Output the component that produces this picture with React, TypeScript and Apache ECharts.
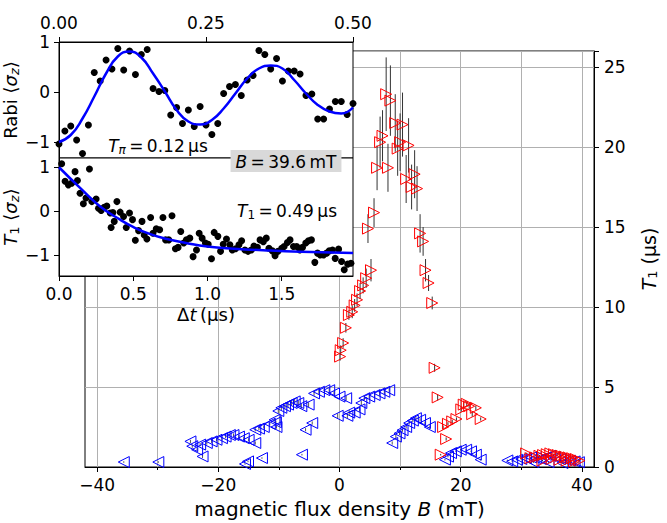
import React, { useEffect, useRef } from 'react';
import * as echarts from 'echarts';

// ---------- main chart ----------
const xMajorTicks = [-40, -20, 0, 20, 40];
const xMinorTicks = [-30, -10, 10, 30];
const yMainTicks = [0, 5, 10, 15, 20, 25];

// [B (mT), T1 (us), error]
const redPoints: number[][] = [
  [7.7, 23.3, 2.3], [8.4, 22.9, 2.2], [9.2, 21.5, 1.8], [10.4, 21.4, 2.0],
  [7.1, 20.7, 1.6], [6.7, 20.3, 1.6], [10.0, 20.3, 1.8], [11.4, 20.1, 1.7],
  [9.6, 19.9, 1.7], [6.2, 18.7, 1.4], [8.0, 18.7, 1.5], [11.0, 18.0, 1.5],
  [12.4, 18.3, 1.5], [11.9, 17.5, 1.4], [12.8, 17.4, 1.4], [5.7, 15.9, 0.9],
  [4.7, 14.9, 0.9], [13.3, 14.6, 1.2], [13.8, 14.1, 0.9], [14.2, 12.3, 0.7],
  [14.7, 11.5, 0.5], [15.3, 10.25, 0.4], [5.2, 12.3, 0.7], [4.4, 11.8, 0.6],
  [3.9, 11.35, 0.5], [3.4, 11.0, 0.5], [2.9, 10.45, 0.4], [2.5, 10.1, 0.4],
  [2.1, 9.7, 0.4], [1.55, 9.5, 0.3], [1.05, 8.7, 0.3], [0.6, 7.75, 0.3],
  [0.2, 7.3, 0.3], [0.1, 6.9, 0.25], [15.7, 6.2, 0.25], [16.2, 4.35, 0.2],
  [17.6, 1.75, 0.1], [16.7, 0.77, 0.05], [17.1, 2.5, 0.1], [17.9, 2.7, 0.1],
  [18.6, 2.85, 0.1], [19.3, 3.0, 0.1], [20.1, 3.6, 0.15], [20.5, 3.9, 0.15],
  [21.0, 3.95, 0.15], [21.4, 3.8, 0.15], [21.9, 3.3, 0.15], [22.5, 3.7, 0.15],
  [23.3, 3.0, 0.1],
  [30.8, 0.85, 0.05], [31.5, 0.55, 0.05], [32.3, 0.6, 0.05], [33.0, 0.7, 0.05],
  [33.6, 0.75, 0.05], [34.2, 0.8, 0.05], [34.8, 0.85, 0.05], [35.4, 0.8, 0.05],
  [36.0, 0.75, 0.05], [36.6, 0.7, 0.05], [37.2, 0.65, 0.05], [37.8, 0.6, 0.05],
  [38.4, 0.55, 0.05], [39.0, 0.5, 0.05], [39.6, 0.4, 0.05], [35.0, 0.5, 0.05],
  [36.3, 0.45, 0.05], [37.5, 0.4, 0.05], [38.7, 0.35, 0.05], [33.5, 0.4, 0.05],
];

const bluePoints: number[][] = [
  [-35.6, 0.31, 0.05], [-29.9, 0.31, 0.05],
  [-24.6, 1.6, 0.1], [-24.3, 1.3, 0.1], [-23.5, 1.08, 0.1], [-22.6, 0.66, 0.1],
  [-23.0, 1.4, 0.1], [-21.9, 1.5, 0.1], [-21.1, 1.6, 0.1], [-20.3, 1.7, 0.1],
  [-19.4, 1.8, 0.1], [-18.8, 1.9, 0.1], [-18.1, 2.0, 0.1], [-17.5, 2.0, 0.1],
  [-16.6, 1.9, 0.1], [-15.8, 1.8, 0.1], [-15.0, 1.7, 0.1], [-13.9, 1.5, 0.1],
  [-15.6, 0.19, 0.05], [-15.1, 0.35, 0.05], [-12.8, 0.56, 0.05],
  [-13.9, 2.33, 0.1], [-13.3, 2.4, 0.1], [-12.5, 2.5, 0.1], [-11.5, 2.7, 0.1],
  [-10.5, 2.8, 0.1], [-10.7, 2.95, 0.1], [-10.4, 2.5, 0.1],
  [-10.1, 3.5, 0.15], [-9.6, 3.7, 0.15], [-9.0, 3.8, 0.15], [-8.5, 3.9, 0.15],
  [-7.9, 4.0, 0.15], [-7.4, 4.1, 0.15], [-6.8, 4.0, 0.15], [-6.3, 3.8, 0.15],
  [-5.1, 3.9, 0.15], [-4.2, 4.6, 0.15], [-3.4, 4.7, 0.15], [-2.5, 4.8, 0.15],
  [-1.7, 4.8, 0.15], [-0.9, 4.6, 0.15], [0.0, 4.4, 0.15], [1.1, 4.3, 0.15],
  [-5.6, 2.33, 0.1], [-4.5, 2.75, 0.1], [-6.2, 0.77, 0.05],
  [-0.3, 3.2, 0.15], [1.3, 3.2, 0.15], [1.6, 3.4, 0.15], [2.5, 3.4, 0.15], [3.3, 3.6, 0.15],
  [3.6, 4.0, 0.15], [4.1, 4.3, 0.15], [4.9, 4.4, 0.15], [5.8, 4.5, 0.15],
  [6.6, 4.6, 0.15], [7.4, 4.7, 0.15], [8.2, 4.8, 0.15],
  [8.7, 1.5, 0.1], [9.3, 1.9, 0.1], [9.9, 2.1, 0.1], [10.4, 2.3, 0.1],
  [11.0, 2.5, 0.1], [11.5, 2.75, 0.1], [12.1, 2.9, 0.1], [12.6, 3.05, 0.1],
  [13.3, 2.95, 0.1], [14.1, 2.75, 0.1], [14.9, 2.5, 0.1],
  [17.4, 0.46, 0.05], [17.9, 0.65, 0.05], [18.4, 0.87, 0.05], [19.2, 0.98, 0.05],
  [20.0, 1.08, 0.05], [20.9, 1.08, 0.05], [21.7, 0.98, 0.05], [22.5, 0.77, 0.05],
  [23.3, 0.46, 0.05],
  [27.7, 0.41, 0.05], [28.5, 0.35, 0.05], [29.3, 0.45, 0.05], [30.0, 0.5, 0.05],
  [30.8, 0.55, 0.05], [31.6, 0.6, 0.05], [32.4, 0.55, 0.05], [33.2, 0.5, 0.05],
  [34.0, 0.6, 0.05], [34.8, 0.7, 0.05], [35.6, 0.6, 0.05], [36.4, 0.5, 0.05],
  [37.2, 0.45, 0.05], [38.0, 0.4, 0.05], [38.8, 0.35, 0.05], [39.5, 0.3, 0.05],
  [32.0, 0.3, 0.05], [34.5, 0.3, 0.05], [36.8, 0.25, 0.05],
];

// ---------- inset: Rabi ----------
const rabiXTicks = [0, 0.25, 0.5];
const insetYTicks = [-1, 0, 1];
const rabiPoints: number[][] = [
  [0.00, -1.04], [0.01, -0.78], [0.02, -0.68], [0.03, -0.96], [0.04, -1.23],
  [0.05, -0.66], [0.06, 0.39], [0.07, 0.22], [0.08, 0.64], [0.09, 0.46],
  [0.10, 0.87], [0.11, 0.44], [0.12, 0.82], [0.13, 0.35], [0.14, 0.75],
  [0.15, 0.85], [0.16, 0.07], [0.17, 0.01], [0.18, 0.03], [0.19, -0.46],
  [0.20, -0.31], [0.21, -0.63], [0.22, -0.36], [0.23, -0.69], [0.24, -0.29],
  [0.25, -0.66], [0.26, -0.85], [0.27, -0.63], [0.28, -0.03], [0.29, 0.11],
  [0.30, 0.15], [0.31, -0.07], [0.32, 0.24], [0.33, 0.33], [0.34, 0.83],
  [0.35, 0.75], [0.36, 0.46], [0.37, 0.67], [0.38, 0.22], [0.39, 0.42],
  [0.40, 0.42], [0.41, 0.36], [0.42, -0.07], [0.43, -0.04], [0.44, -0.54],
  [0.45, -0.54], [0.46, -0.34], [0.47, -0.19], [0.48, -0.19], [0.49, -0.45],
  [0.50, -0.23],
];
const rabiFit: number[][] = [
  [0.00, -1.0], [0.02, -0.86], [0.04, -0.53], [0.06, -0.09], [0.08, 0.37],
  [0.10, 0.71], [0.12, 0.81], [0.14, 0.69], [0.16, 0.37], [0.18, 0.01],
  [0.20, -0.36], [0.22, -0.59], [0.24, -0.65], [0.26, -0.56], [0.28, -0.33],
  [0.30, -0.03], [0.32, 0.27], [0.34, 0.47], [0.36, 0.53], [0.38, 0.47],
  [0.40, 0.24], [0.42, -0.03], [0.44, -0.26], [0.46, -0.39], [0.48, -0.43],
  [0.50, -0.31],
];

// ---------- inset: T1 ----------
const t1XTicks = [0, 0.5, 1.0, 1.5];
const t1Points: number[][] = [
  [0.018, 1.07], [0.041, 0.67], [0.063, 0.59], [0.086, 0.63], [0.108, 0.89],
  [0.124, 0.69], [0.142, 0.40], [0.164, 0.16], [0.182, 0.29], [0.205, 0.95],
  [0.221, 0.21], [0.25, 0.27], [0.266, 0.06], [0.284, 0.01], [0.304, 0.08],
  [0.322, 0.11], [0.345, -0.05], [0.363, -0.04], [0.351, -0.38], [0.39, 0.21],
  [0.372, -0.24], [0.412, -0.03], [0.435, -0.13], [0.453, -0.38], [0.475, -0.05],
  [0.495, -0.20], [0.514, -0.67], [0.536, -0.45], [0.559, -0.24], [0.574, -0.55],
  [0.592, -0.64], [0.617, -0.15], [0.633, -0.51], [0.655, -0.41], [0.678, -0.43],
  [0.70, -0.15], [0.718, -0.66], [0.739, -0.66], [0.761, -0.11], [0.784, -0.86],
  [0.802, -0.83], [0.82, -0.47], [0.84, -0.73], [0.858, -0.66], [0.881, -0.62],
  [0.903, -1.04], [0.926, -0.89], [0.944, -0.51], [0.964, -0.62], [0.986, -0.73],
  [1.005, -0.76], [1.027, -1.09], [1.045, -0.49], [1.07, -0.58], [1.088, -0.92],
  [1.106, -0.76], [1.128, -0.64], [1.151, -0.77], [1.167, -0.89], [1.189, -0.86],
  [1.212, -0.77], [1.23, -0.68], [1.252, -0.89], [1.273, -0.92], [1.295, -0.89],
  [1.313, -0.80], [1.336, -0.83], [1.354, -0.66], [1.376, -0.70], [1.396, -0.62],
  [1.414, -0.85], [1.437, -0.91], [1.455, -1.02], [1.475, -0.92], [1.50, -0.85],
  [1.516, -0.81], [1.538, -0.72], [1.556, -0.66], [1.579, -0.81], [1.601, -0.81],
  [1.622, -0.89], [1.64, -0.83], [1.662, -0.73], [1.68, -0.68], [1.70, -0.66],
  [1.723, -1.17], [1.741, -0.96], [1.759, -1.0], [1.782, -1.0], [1.802, -0.96],
  [1.82, -0.91], [1.842, -0.89], [1.86, -1.08], [1.883, -0.87], [1.903, -1.15],
  [1.921, -1.34], [1.944, -1.21], [1.966, -1.19], [1.984, -0.85],
];
const t1Fit: number[][] = [
  [0.0, 0.99], [0.142, 0.52], [0.277, 0.10], [0.412, -0.20], [0.502, -0.37],
  [0.615, -0.53], [0.727, -0.64], [0.862, -0.735], [0.998, -0.81], [1.178, -0.86],
  [1.40, -0.90], [1.628, -0.93], [1.98, -0.96],
];

const FONT = 'DejaVu Sans';
const TICK_FS = 17;
const NAME_FS = 19;
const ANN_FS = 17;
const minus = (v: number, digits?: number) => {
  const s = digits === undefined ? String(Math.abs(v)) : Math.abs(v).toFixed(digits);
  return (v < 0 ? '\u2212' : '') + s;
};

const baseLabel = { color: '#000', fontFamily: FONT, fontSize: TICK_FS };

const makeRich = (fs: number) => ({
  n: { fontFamily: FONT, fontSize: fs, color: '#000' },
  i: { fontFamily: FONT, fontSize: fs, color: '#000', fontStyle: 'italic' },
  s: { fontFamily: FONT, fontSize: Math.round(fs * 0.7), color: '#000', verticalAlign: 'bottom', padding: [8, 0, 0, 0] },
  si: { fontFamily: FONT, fontSize: Math.round(fs * 0.7), color: '#000', fontStyle: 'italic', verticalAlign: 'bottom', padding: [8, 0, 0, 0] },
});

export default function App() {
  const ref = useRef<HTMLDivElement>(null);
  useEffect(() => {
    if (!ref.current) return;
    const chart = echarts.init(ref.current, undefined, { renderer: 'svg' });

    const errRender = (color: string) => (params: any, api: any) => {
      const lo = api.coord([api.value(0), api.value(1)]);
      const hi = api.coord([api.value(0), api.value(2)]);
      return {
        type: 'line',
        shape: { x1: lo[0], y1: lo[1], x2: hi[0], y2: hi[1] },
        style: { stroke: color, lineWidth: 1 },
      };
    };

    const richName = makeRich(NAME_FS);
    const richInset = makeRich(18);
    const richAnn = makeRich(ANN_FS);
    const thin = '\u2009';

    const option: any = {
      animation: false,
      backgroundColor: '#fff',
      textStyle: { fontFamily: FONT },
      grid: [
        { left: 85, right: 73, top: 51, bottom: 56, show: true, borderColor: '#000', borderWidth: 1, backgroundColor: 'transparent', containLabel: false, outerBoundsMode: 'none' },
        { left: 59, top: 42, width: 294, height: 116, show: true, borderColor: '#000', borderWidth: 1, backgroundColor: '#fff', z: 10, containLabel: false, outerBoundsMode: 'none' },
        { left: 59, top: 158, width: 294, height: 118, show: true, borderColor: '#000', borderWidth: 1, backgroundColor: '#fff', z: 10, containLabel: false, outerBoundsMode: 'none' },
      ],
      xAxis: [
        {
          gridIndex: 0, type: 'value', min: -42, max: 42, position: 'bottom',
          axisLine: { show: true, onZero: false, lineStyle: { color: '#000', width: 1 } },
          axisTick: { show: true, inside: false, length: 5, customValues: xMajorTicks, lineStyle: { color: '#000' } },
          axisLabel: { ...baseLabel, margin: 9, customValues: xMajorTicks, formatter: (v: number) => minus(v) },
          splitLine: { show: true, lineStyle: { color: '#b0b0b0', width: 1 } },
          name: '{n|magnetic flux density }{i|B}{n| (mT)}',
          nameLocation: 'middle', nameGap: 32,
          nameTextStyle: { rich: makeRich(20) },
        },
        {
          gridIndex: 0, type: 'value', min: -42, max: 42, position: 'bottom',
          axisLine: { show: false, onZero: false },
          axisTick: { show: true, inside: false, length: 3, customValues: xMinorTicks, lineStyle: { color: '#000' } },
          axisLabel: { show: false, customValues: xMinorTicks },
          splitLine: { show: true, lineStyle: { color: '#b0b0b0', width: 1 } },
        },
        {
          gridIndex: 1, type: 'value', min: 0, max: 0.5, interval: 0.25, position: 'top', z: 20,
          axisLine: { show: true, onZero: false, lineStyle: { color: '#000' } },
          axisTick: { show: true, inside: false, length: 5, lineStyle: { color: '#000' } },
          axisLabel: { ...baseLabel, margin: 11, formatter: (v: number) => v.toFixed(2) },
          splitLine: { show: false },
        },
        {
          gridIndex: 2, type: 'value', min: 0, max: 1.98, interval: 0.5, position: 'bottom', z: 20,
          axisLine: { show: true, onZero: false, lineStyle: { color: '#000' } },
          axisTick: { show: true, inside: false, length: 5, customValues: t1XTicks, lineStyle: { color: '#000' } },
          axisLabel: { ...baseLabel, margin: 9, customValues: t1XTicks, formatter: (v: number) => v.toFixed(1) },
          splitLine: { show: false },
          name: '{n|\u0394}{i|t}{n|' + thin + '(\u03bcs)}',
          nameLocation: 'middle', nameGap: 29,
          nameTextStyle: { rich: richInset },
        },
      ],
      yAxis: [
        {
          gridIndex: 0, type: 'value', min: 0, max: 26, interval: 5, position: 'right',
          axisLine: { show: true, onZero: false, lineStyle: { color: '#000' } },
          axisTick: { show: true, inside: false, length: 5, lineStyle: { color: '#000' } },
          axisLabel: { ...baseLabel, margin: 10, customValues: yMainTicks },
          splitLine: { show: true, lineStyle: { color: '#b0b0b0', width: 1 } },
          name: '{i|T}{s|1}{n| (\u03bcs)}',
          nameLocation: 'middle', nameGap: 44, nameRotate: 90,
          nameTextStyle: { rich: richName },
        },
        {
          gridIndex: 1, type: 'value', min: -1.32, max: 1, position: 'left', z: 20,
          axisLine: { show: true, onZero: false, lineStyle: { color: '#000' } },
          axisTick: { show: true, inside: false, length: 5, customValues: insetYTicks, lineStyle: { color: '#000' } },
          axisLabel: { ...baseLabel, margin: 9, customValues: insetYTicks, formatter: (v: number) => minus(v) },
          splitLine: { show: false },
          name: '{n|Rabi \u27e8}{i|\u03c3}{si|z}{n|\u27e9}',
          nameLocation: 'middle', nameGap: 22, nameRotate: 90,
          nameTextStyle: { rich: richInset },
        },
        {
          gridIndex: 2, type: 'value', min: -1.48, max: 1.2, position: 'left', z: 20,
          axisLine: { show: true, onZero: false, lineStyle: { color: '#000' } },
          axisTick: { show: true, inside: false, length: 5, customValues: insetYTicks, lineStyle: { color: '#000' } },
          axisLabel: { ...baseLabel, margin: 9, customValues: insetYTicks, formatter: (v: number) => minus(v) },
          splitLine: { show: false },
          name: '{i|T}{s|1}{n| \u27e8}{i|\u03c3}{si|z}{n|\u27e9}',
          nameLocation: 'middle', nameGap: 22, nameRotate: 90,
          nameTextStyle: { rich: richInset },
        },
      ],
      series: [
        {
          type: 'custom', xAxisIndex: 0, yAxisIndex: 0, z: 2, silent: true,
          data: redPoints.map((p) => [p[0], p[1] - p[2], p[1] + p[2]]),
          encode: { x: 0, y: [1, 2] },
          renderItem: errRender('#333'),
        },
        {
          type: 'custom', xAxisIndex: 0, yAxisIndex: 0, z: 2, silent: true,
          data: bluePoints.map((p) => [p[0], p[1] - p[2], p[1] + p[2]]),
          encode: { x: 0, y: [1, 2] },
          renderItem: errRender('#555'),
        },
        {
          type: 'scatter', xAxisIndex: 0, yAxisIndex: 0, z: 3,
          data: bluePoints.map((p) => [p[0], p[1]]),
          symbol: 'triangle', symbolSize: 11, symbolRotate: 90,
          itemStyle: { color: 'transparent', borderColor: '#0000ff', borderWidth: 1, opacity: 1 },
        },
        {
          type: 'scatter', xAxisIndex: 0, yAxisIndex: 0, z: 4,
          data: redPoints.map((p) => [p[0], p[1]]),
          symbol: 'triangle', symbolSize: 11, symbolRotate: -90,
          itemStyle: { color: 'transparent', borderColor: '#ff0000', borderWidth: 1, opacity: 1 },
        },
        {
          type: 'scatter', xAxisIndex: 2, yAxisIndex: 1, z: 30,
          data: rabiPoints, symbol: 'circle', symbolSize: 7,
          itemStyle: { color: '#000', opacity: 1 },
        },
        {
          type: 'line', xAxisIndex: 2, yAxisIndex: 1, z: 31,
          data: rabiFit, smooth: true, showSymbol: false, symbol: 'none',
          lineStyle: { color: '#0000ff', width: 2.5 },
        },
        {
          type: 'scatter', xAxisIndex: 3, yAxisIndex: 2, z: 30,
          data: t1Points, symbol: 'circle', symbolSize: 7,
          itemStyle: { color: '#000', opacity: 1 },
        },
        {
          type: 'line', xAxisIndex: 3, yAxisIndex: 2, z: 31,
          data: t1Fit, smooth: true, showSymbol: false, symbol: 'none',
          lineStyle: { color: '#0000ff', width: 2.5 },
        },
      ],
      graphic: [
        {
          type: 'text', x: 158, y: 146, z: 50,
          style: {
            text: '{i|T}{si|\u03c0}{n|' + thin + '=' + thin + '0.12' + thin + '\u03bcs}',
            align: 'center', verticalAlign: 'middle',
            rich: richAnn,
          },
        },
        {
          type: 'text', x: 286, y: 161, z: 50,
          style: {
            text: '{i|B}{n|' + thin + '=' + thin + '39.6' + thin + 'mT}',
            align: 'center', verticalAlign: 'middle',
            backgroundColor: '#d9d9d9', padding: [3, 5, 2, 5],
            rich: richAnn,
          },
        },
        {
          type: 'text', x: 287, y: 211, z: 50,
          style: {
            text: '{i|T}{s|1}{n|' + thin + '=' + thin + '0.49' + thin + '\u03bcs}',
            align: 'center', verticalAlign: 'middle',
            rich: richAnn,
          },
        },
      ],
    };
    chart.setOption(option);
    return () => chart.dispose();
  }, []);
  return <div ref={ref} style={{ width: 667, height: 523, position: 'absolute', left: 0, top: 0 }} />;
}
